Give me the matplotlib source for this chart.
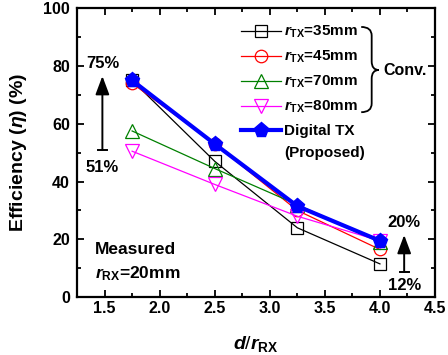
import matplotlib
matplotlib.use("Agg")
import matplotlib.pyplot as plt
from matplotlib.path import Path
from matplotlib.patches import PathPatch
from matplotlib.lines import Line2D
from matplotlib.ticker import MultipleLocator

plt.rcParams["font.family"] = ["Liberation Sans", "DejaVu Sans"]
plt.rcParams["font.weight"] = "bold"
plt.rcParams["mathtext.fontset"] = "custom"
plt.rcParams["mathtext.rm"] = "Liberation Sans:bold"
plt.rcParams["mathtext.it"] = "Liberation Sans:italic:bold"
plt.rcParams["mathtext.bf"] = "Liberation Sans:bold"

# d / r_RX
ratio = [1.75, 2.5, 3.25, 4.0]

# efficiency (%)
eff_35 = [75, 47, 24, 11.5]
eff_45 = [74, 53, 30, 16.5]
eff_70 = [57.5, 44.5, 32, 19]
eff_80 = [50.5, 39, 28, 19.5]
eff_digital = [75, 53, 31.5, 19.5]

labels = [r"$r_{\rm TX}$=35mm", r"$r_{\rm TX}$=45mm",
          r"$r_{\rm TX}$=70mm", r"$r_{\rm TX}$=80mm",
          "Digital TX", "(Proposed)"]

fig = plt.figure(figsize=(4.48, 3.55), dpi=100)
ax = fig.add_axes([0.172, 0.163, 0.799, 0.814])

styles = [
    (eff_35, "black", "s", 9),
    (eff_45, "red", "o", 9),
    (eff_70, "green", "^", 10),
    (eff_80, "#FF00FF", "v", 10),
]
handles = []
for vals, c, m, ms in styles:
    h, = ax.plot(ratio, vals, color=c, marker=m, mfc="none", mec=c, ms=ms,
                 lw=0.9, mew=0.9)
    handles.append(h)
h, = ax.plot(ratio, eff_digital, color="#0000FF", marker="p", ms=11,
             lw=3, mfc="#0000FF", mec="#0000FF")
handles.append(h)
handles.append(Line2D([], [], color="none"))

ax.set_xlim(1.25, 4.5)
ax.set_ylim(0, 100)
ax.xaxis.set_major_locator(MultipleLocator(0.5))
ax.xaxis.set_minor_locator(MultipleLocator(0.25))
ax.yaxis.set_major_locator(MultipleLocator(20))
ax.yaxis.set_minor_locator(MultipleLocator(10))
ax.tick_params(which="both", direction="in", top=True, right=True,
               labelsize=11.5, width=1.3)
ax.tick_params(axis="x", pad=3)
ax.tick_params(axis="y", pad=5)
ax.tick_params(which="major", length=5)
ax.tick_params(which="minor", length=3)
for lab in ax.get_xticklabels() + ax.get_yticklabels():
    lab.set_fontweight("bold")
for sp in ax.spines.values():
    sp.set_linewidth(1.6)

ax.set_xlabel(r"$d$/$r_{\rm RX}$", fontsize=14, labelpad=13)
ax.set_ylabel(r"Efficiency ($\eta$) (%)", fontsize=14, fontweight="bold",
              labelpad=10)

leg = ax.legend(handles, labels, loc="upper left",
                bbox_to_anchor=(0.458, 0.945), frameon=False, fontsize=11,
                handlelength=2.6, handletextpad=0.2, labelspacing=0.56,
                borderpad=0, borderaxespad=0)
for t in leg.get_texts():
    t.set_fontweight("bold")

# brace for conventional designs
bx0, bx1, bx2 = 3.83, 3.925, 3.99
by0, bym, by1 = 93.5, 78.6, 64.0
r = 3.0
verts = [(bx0, by0), (bx1, by0), (bx1, by0 - r),
         (bx1, bym + r), (bx1, bym), (bx2, bym),
         (bx1, bym), (bx1, bym - r),
         (bx1, by1 + r), (bx1, by1), (bx0, by1)]
codes = [Path.MOVETO, Path.CURVE3, Path.CURVE3,
         Path.LINETO, Path.CURVE3, Path.CURVE3,
         Path.CURVE3, Path.CURVE3,
         Path.LINETO, Path.CURVE3, Path.CURVE3]
ax.add_patch(PathPatch(Path(verts, codes), fc="none", ec="black", lw=1.3))
ax.text(4.03, bym, "Conv.", fontsize=11.5, fontweight="bold", va="center",
        ha="left")

# improvement arrows
def improvement(x, lo, hi, lo_txt, hi_txt, lo_y, hi_y):
    ax.annotate("", xy=(x, hi), xytext=(x, lo),
                arrowprops=dict(arrowstyle="-|>,head_width=0.3,head_length=0.8",
                                color="black", lw=1.4, mutation_scale=14,
                                shrinkA=0, shrinkB=0))
    ax.plot([x - 0.04, x + 0.04], [lo, lo], color="black", lw=1.4)
    ax.text(x, hi_y, hi_txt, ha="center", va="center", fontsize=12,
            fontweight="bold")
    ax.text(x, lo_y, lo_txt, ha="center", va="center", fontsize=12,
            fontweight="bold")

improvement(1.48, 51, 76.5, "51%", "75%", 45.0, 81)
improvement(4.22, 8.7, 21.5, "12%", "20%", 4.0, 26)

ax.text(1.41, 16.5, "Measured", fontsize=12.5, fontweight="bold",
        ha="left", va="center")
ax.text(1.41, 8.2, r"$r_{\rm RX}$=20mm", fontsize=12.5, fontweight="bold",
        ha="left", va="center")

fig.savefig("out.png", dpi=100)
